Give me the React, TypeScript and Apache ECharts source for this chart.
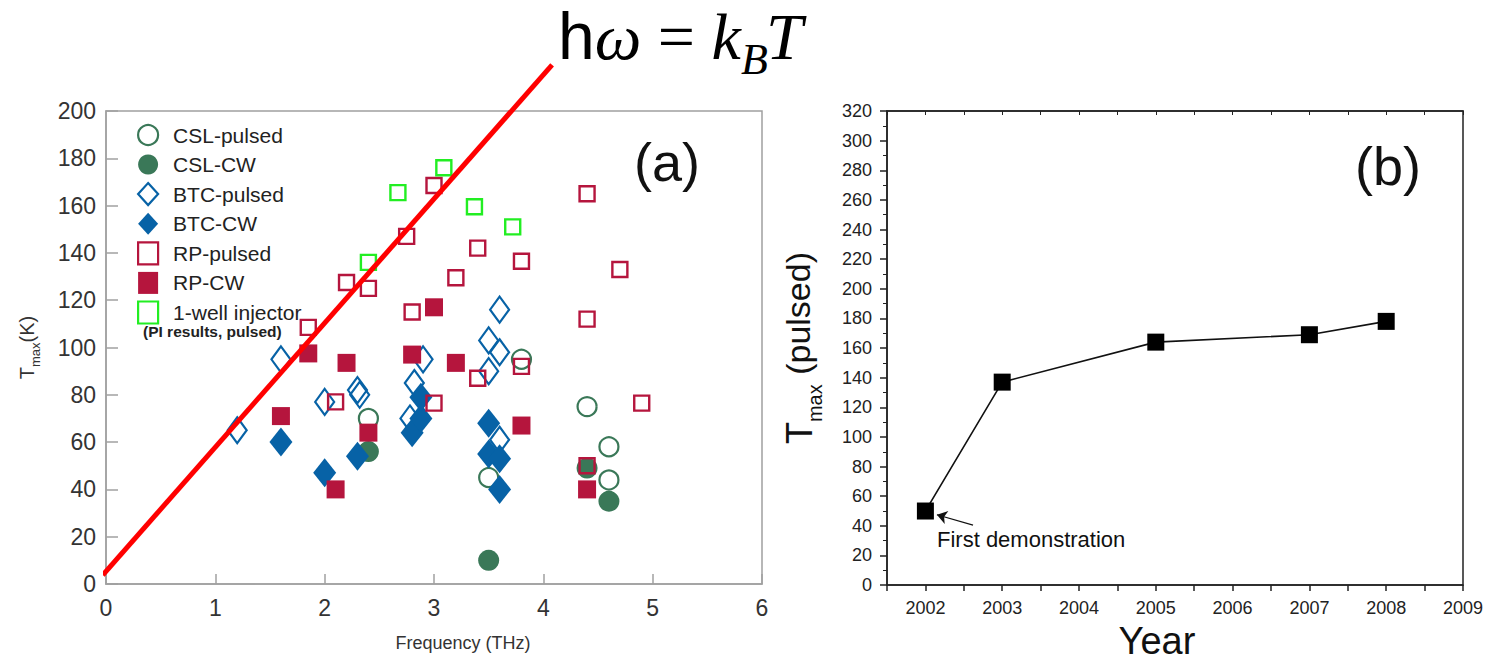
import React, { useEffect, useRef } from "react";
import * as echarts from "echarts";

// ---------- Panel (a): T_max vs frequency ----------
const cslPulsed = [[2.4, 70], [3.5, 45], [3.8, 95], [4.4, 75], [4.6, 58], [4.6, 44]];
const cslCW = [[2.4, 56], [3.5, 10], [4.6, 35], [4.4, 49]];
const btcPulsed = [
  [1.2, 65], [1.6, 95], [2.0, 77], [2.3, 82], [2.32, 80], [2.78, 70], [2.82, 85],
  [2.9, 95], [3.5, 103], [3.6, 116], [3.6, 98], [3.5, 90], [3.6, 61],
];
const btcCW = [
  [1.6, 60], [2.0, 47], [2.3, 54], [2.8, 64], [2.88, 70], [2.88, 79],
  [3.5, 68], [3.5, 55], [3.6, 53], [3.6, 40],
];
const rpPulsed = [
  [1.85, 108.5], [2.2, 127.5], [2.4, 125], [2.1, 77], [2.75, 147], [2.8, 115],
  [3.0, 168.5], [3.2, 129.5], [3.4, 142], [3.8, 136.5], [4.4, 165], [4.7, 133],
  [4.4, 112], [3.0, 76.5], [3.4, 87], [3.8, 92], [4.4, 50], [4.9, 76.5],
];
const rpCW = [
  [1.6, 71], [1.85, 97.5], [2.2, 93.5], [2.1, 40], [2.4, 64], [2.8, 97],
  [3.0, 117], [3.2, 93.5], [3.8, 67], [4.4, 40],
];
const injector = [[2.4, 136], [2.67, 165.5], [3.09, 176], [3.37, 159.5], [3.72, 151]];
const thresholdLine = [[-0.03, 3.8], [4.08, 219.5]];
const freqTicks = { min: 0, max: 6, interval: 1 };
const tempTicks = { min: 0, max: 200, interval: 20 };

// ---------- Panel (b): T_max (pulsed) vs year ----------
const years = [2002, 2003, 2005, 2007, 2008];
const tmaxPulsed = [50, 137, 164, 169, 178];
const yearTicks = { min: 2001.5, max: 2009, interval: 0.5 };
const tmaxTicks = { min: 0, max: 320, interval: 20 };
const arrowFrom = [2002.62, 40.5];
const arrowTo = [2002.15, 47.5];

const CSL = "#3a7858";
const BTC = "#0762a6";
const RP = "#b5153d";
const GRN = "#22ee22";
const SANS = "'Liberation Sans', Arial, sans-serif";
const SERIF = "'Liberation Serif', 'Times New Roman', serif";
const OPEN = "rgba(255,255,255,0)";

const legendItems = [
  { name: "CSL-pulsed", itemStyle: { color: OPEN, borderColor: CSL, borderWidth: 2.2, opacity: 1 } },
  { name: "CSL-CW", itemStyle: { color: CSL, borderColor: CSL, borderWidth: 0, opacity: 1 } },
  { name: "BTC-pulsed", itemStyle: { color: OPEN, borderColor: BTC, borderWidth: 2.2, opacity: 1 } },
  { name: "BTC-CW", itemStyle: { color: BTC, borderColor: BTC, borderWidth: 0, opacity: 1 } },
  { name: "RP-pulsed", itemStyle: { color: OPEN, borderColor: RP, borderWidth: 2.2, opacity: 1 } },
  { name: "RP-CW", itemStyle: { color: RP, borderColor: RP, borderWidth: 0, opacity: 1 } },
  { name: "1-well injector", itemStyle: { color: OPEN, borderColor: GRN, borderWidth: 2.2, opacity: 1 } },
];

function scatter(name: string, data: number[][], symbol: string, size: any, style: any) {
  return {
    name,
    type: "scatter",
    xAxisIndex: 0,
    yAxisIndex: 0,
    data,
    symbol,
    symbolSize: size,
    itemStyle: { opacity: 1, ...style },
    emphasis: { disabled: true },
  };
}

const axisGreyA = "#a0a0a0";

function formulaText(text: string, x: number, y: number, size: number, family: string, italic: boolean) {
  return {
    type: "text",
    x,
    y,
    style: {
      text,
      fontFamily: family,
      fontStyle: italic ? "italic" : "normal",
      fontSize: size,
      lineHeight: size,
      fill: "#000",
      textAlign: "left",
      align: "left",
      textVerticalAlign: "middle",
      verticalAlign: "middle",
    },
  };
}

const option: any = {
  animation: false,
  backgroundColor: "#ffffff",
  grid: [
    { left: 106, top: 111, width: 656, height: 473, show: true, borderColor: axisGreyA, borderWidth: 1.5 },
    { left: 887, top: 111, width: 576, height: 479, show: true, borderColor: "#222", borderWidth: 1.5 },
  ],
  legend: {
    data: legendItems,
    orient: "vertical",
    left: 132,
    top: 118,
    itemWidth: 20,
    itemHeight: 22,
    itemGap: 5.5,
    selectedMode: false,
    textStyle: { fontFamily: SANS, fontSize: 21, color: "#222", lineHeight: 24, padding: [0, 0, 0, 10] },
  },
  xAxis: [
    {
      gridIndex: 0,
      type: "value",
      ...freqTicks,
      axisLine: { show: true, lineStyle: { color: axisGreyA, width: 1.5 } },
      axisTick: { show: true, inside: true, length: 10, lineStyle: { color: axisGreyA, width: 1.5 } },
      axisLabel: { fontFamily: SANS, fontSize: 23, color: "#333", margin: 12 },
      splitLine: { show: false },
      name: "Frequency (THz)",
      nameLocation: "middle",
      nameGap: 50,
      nameTextStyle: { fontFamily: SANS, fontSize: 18, color: "#333", padding: [0, 0, 0, 58] },
    },
    {
      gridIndex: 1,
      type: "value",
      ...yearTicks,
      axisLine: { show: true, lineStyle: { color: "#222", width: 1.5 } },
      axisTick: { show: true, length: 6, lineStyle: { color: "#222", width: 1.5 } },
      axisLabel: {
        fontFamily: SANS,
        fontSize: 18,
        color: "#222",
        margin: 14,
        formatter: (v: number) => (Math.abs(v - Math.round(v)) < 1e-6 ? String(Math.round(v)) : ""),
      },
      splitLine: { show: false },
      name: "Year",
      nameLocation: "middle",
      nameGap: 27,
      nameTextStyle: { fontFamily: SANS, fontSize: 38, color: "#111", padding: [0, 36, 0, 0] },
    },
    {
      gridIndex: 1,
      type: "value",
      position: "top",
      ...yearTicks,
      axisLine: { show: true, lineStyle: { color: "#222", width: 1.5 } },
      axisTick: { show: true, inside: true, length: 4, lineStyle: { color: "#222", width: 1 } },
      axisLabel: { show: false },
      splitLine: { show: false },
    },
  ],
  yAxis: [
    {
      gridIndex: 0,
      type: "value",
      ...tempTicks,
      axisLine: { show: true, lineStyle: { color: axisGreyA, width: 1.5 } },
      axisTick: { show: true, inside: true, length: 12, lineStyle: { color: axisGreyA, width: 1.5 } },
      axisLabel: { fontFamily: SANS, fontSize: 23, color: "#333", margin: 10 },
      splitLine: { show: false },
      name: "{t|T}{s|max}{t|(K)}",
      nameLocation: "middle",
      nameRotate: 90,
      nameGap: 64,
      nameTextStyle: {
        rich: {
          t: { fontFamily: SANS, fontSize: 20, lineHeight: 20, verticalAlign: "top", color: "#333" },
          s: { fontFamily: SANS, fontSize: 13, lineHeight: 25, verticalAlign: "bottom", color: "#333" },
        },
      },
    },
    {
      gridIndex: 1,
      type: "value",
      ...tmaxTicks,
      axisLine: { show: true, lineStyle: { color: "#222", width: 1.5 } },
      axisTick: { show: true, length: 7, lineStyle: { color: "#222", width: 1.5 } },
      minorTick: { show: true, splitNumber: 2, length: 4, lineStyle: { color: "#222", width: 1 } },
      axisLabel: { fontFamily: SANS, fontSize: 18, color: "#222", margin: 15 },
      splitLine: { show: false },
      name: "{t|T}{s|max}{p| (pulsed)}",
      nameLocation: "middle",
      nameRotate: 90,
      nameGap: 62,
      nameTextStyle: {
        rich: {
          t: { fontFamily: SANS, fontSize: 36, lineHeight: 36, verticalAlign: "top", color: "#111" },
          s: { fontFamily: SANS, fontSize: 20, lineHeight: 44, verticalAlign: "bottom", color: "#111" },
          p: { fontFamily: SANS, fontSize: 34, lineHeight: 34, verticalAlign: "top", color: "#111" },
        },
      },
    },
  ],
  series: [
    scatter("CSL-pulsed", cslPulsed, "circle", 19, { color: OPEN, borderColor: CSL, borderWidth: 2.2 }),
    scatter("CSL-CW", cslCW, "circle", 21, { color: CSL }),
    scatter("BTC-pulsed", btcPulsed, "diamond", [19, 26], { color: OPEN, borderColor: BTC, borderWidth: 2.2 }),
    scatter("BTC-CW", btcCW, "diamond", [23, 29], { color: BTC }),
    scatter("RP-pulsed", rpPulsed, "rect", 15, { color: OPEN, borderColor: RP, borderWidth: 2.4 }),
    scatter("RP-CW", rpCW, "rect", 18, { color: RP }),
    scatter("1-well injector", injector, "rect", 15, { color: OPEN, borderColor: GRN, borderWidth: 2.4 }),
    {
      name: "threshold",
      type: "line",
      xAxisIndex: 0,
      yAxisIndex: 0,
      data: thresholdLine,
      symbol: "none",
      clip: false,
      z: 5,
      lineStyle: { color: "#ff0000", width: 5 },
      emphasis: { disabled: true },
    },
    {
      name: "Tmax pulsed",
      type: "line",
      xAxisIndex: 1,
      yAxisIndex: 1,
      data: years.map((y, i) => [y, tmaxPulsed[i]]),
      symbol: "rect",
      symbolSize: 17,
      itemStyle: { color: "#000" },
      lineStyle: { color: "#111", width: 1.6 },
      emphasis: { disabled: true },
      markLine: {
        silent: true,
        z: 10,
        symbol: ["none", "arrow"],
        symbolSize: 10,
        lineStyle: { color: "#111", width: 1.2, type: "solid" },
        label: { show: false },
        emphasis: { disabled: true },
        data: [[{ coord: arrowFrom }, { coord: arrowTo }]],
      },
    },
  ],
  graphic: [
    {
      type: "text",
      x: 558,
      y: 36,
      style: {
        text: "{h|h}{w|ω}{e| = }{k|k}",
        textAlign: "left",
        align: "left",
        textVerticalAlign: "middle",
        verticalAlign: "middle",
        rich: {
          h: { fontFamily: SANS, fontSize: 66, lineHeight: 66, fill: "#000" },
          w: { fontFamily: SERIF, fontStyle: "italic", fontSize: 66, lineHeight: 66, fill: "#000" },
          e: { fontFamily: SERIF, fontSize: 66, lineHeight: 66, fill: "#000" },
          k: { fontFamily: SERIF, fontStyle: "italic", fontSize: 66, lineHeight: 66, fill: "#000" },
        },
      },
    },
    formulaText("B", 741, 59, 44, SERIF, true),
    formulaText("T", 766, 36, 66, SERIF, true),
    {
      type: "text",
      x: 667,
      y: 162,
      style: { text: "(a)", fontFamily: SANS, fontSize: 54, fill: "#111", textAlign: "center", align: "center", textVerticalAlign: "middle", verticalAlign: "middle" },
    },
    {
      type: "text",
      x: 1388,
      y: 166,
      style: { text: "(b)", fontFamily: SANS, fontSize: 54, fill: "#111", textAlign: "center", align: "center", textVerticalAlign: "middle", verticalAlign: "middle" },
    },
    {
      type: "text",
      x: 143,
      y: 331,
      style: { text: "(PI results, pulsed)", fontFamily: SANS, fontWeight: "bold", fontSize: 15.5, fill: "#222", textAlign: "left", align: "left", textVerticalAlign: "middle", verticalAlign: "middle" },
    },
    {
      type: "text",
      x: 937,
      y: 539,
      style: { text: "First demonstration", fontFamily: SANS, fontSize: 22, fill: "#111", textAlign: "left", align: "left", textVerticalAlign: "middle", verticalAlign: "middle" },
    },
  ],
};

export default function App() {
  const ref = useRef<HTMLDivElement>(null);
  useEffect(() => {
    if (!ref.current) return;
    const chart = echarts.init(ref.current, null, { renderer: "svg" });
    chart.setOption(option);
    return () => chart.dispose();
  }, []);
  return (
    <div
      ref={ref}
      style={{ position: "fixed", left: 0, top: 0, width: 1491, height: 665, background: "#fff" }}
    />
  );
}
